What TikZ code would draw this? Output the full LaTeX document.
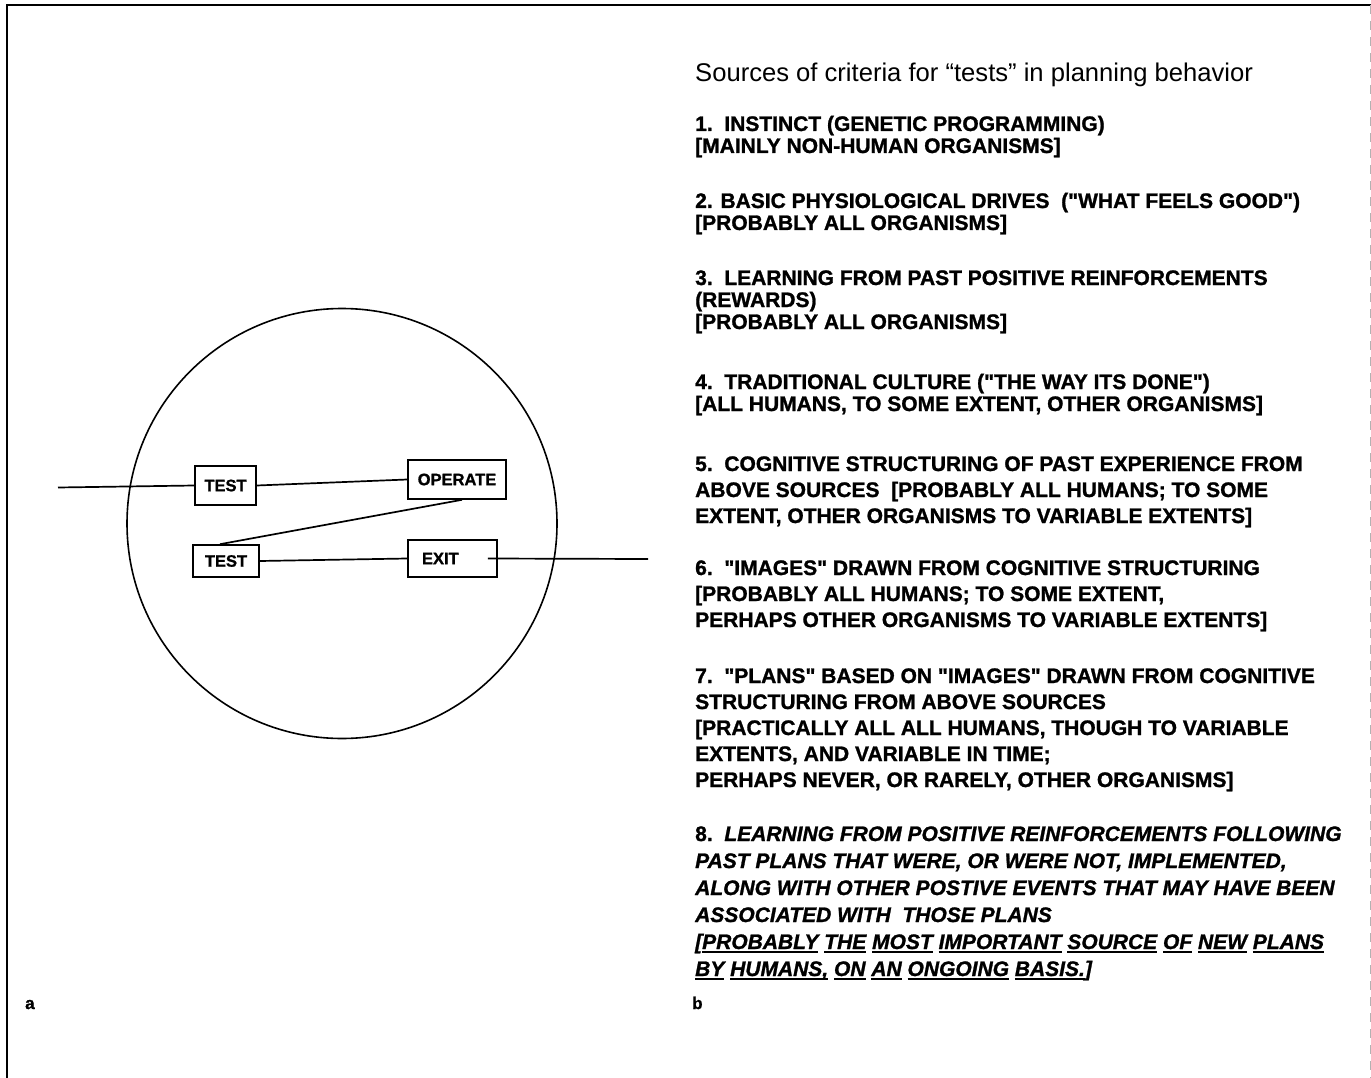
\documentclass[tikz,border=0pt]{standalone}
\usepackage{fontspec}
\setmainfont{Liberation Sans}[Ligatures=TeXOff, BoldFeatures={FakeBold=1.2}, BoldItalicFeatures={FakeBold=1.2}]
\usetikzlibrary{positioning}

\newlength{\wordlen}
\newcommand{\wordline}[1]{\settowidth{\wordlen}{#1}\rlap{\rule[-4pt]{\wordlen}{1.6pt}}#1}

\begin{document}
\begin{tikzpicture}[x=1pt, y=-1pt,
    box/.style={draw, line width=1.6pt, inner sep=0pt, minimum height=38pt,
      font=\fontsize{16.5}{18}\selectfont\bfseries},
    wire/.style={line width=1.7pt},
    item/.style={anchor=base west, inner sep=0pt, align=left,
      font=\fontsize{21}{22}\selectfont\bfseries}]
    \useasboundingbox (0,0) rectangle (1371,1078);
    % frame
    \draw[line width=1.6pt] (1371,5) -- (7,5) -- (7,1078);
    \draw[gray!60, line width=1pt, dash pattern=on 9pt off 7pt] (1370,5) -- (1370,1078);

    % panel a: the TOTE loop
    \draw[line width=1.6pt] (342,523.5) circle (215pt);
    \node[box, minimum width=61pt, minimum height=39pt] (test1) at (225.5,485.5) {TEST};
    \node[box, minimum width=98pt, minimum height=39pt] (operate) at (457,479.5) {OPERATE};
    \node[box, minimum width=66pt, minimum height=32pt] (test2) at (226,561) {TEST};
    \node[box, text width=61pt, inner xsep=14pt, align=left, minimum height=37pt] (exit) at (452.5,558.5) {EXIT};
    \coordinate (in) at (58,487.5);
    \coordinate (out) at (648,559);
    \draw[wire] (in) -- (test1.west);
    \draw[wire] (test1.east) -- (operate.west);
    \draw[wire] ([xshift=5pt]operate.south) -- ([xshift=-6pt]test2.north);
    \draw[wire] (test2.east) -- (exit.west);
    \draw[wire] ([xshift=-10pt]exit.east) -- (out);
    \node[anchor=base west, inner sep=0pt, font=\fontsize{17}{18}\selectfont\bfseries] (lbla) at (25,1009) {a};

    % panel b: sources of criteria (base = last line)
    \node[anchor=base west, inner sep=0pt, font=\fontsize{25.6}{28}\selectfont] (title) at (695,82)
      {Sources of criteria for “tests” in planning behavior};
    \node[item] (src1) at (695,153) {1.\ \ INSTINCT (GENETIC PROGRAMMING)\\
      {[}MAINLY NON-HUMAN ORGANISMS]};
    \node[item] (src2) at (695,230) {2. BASIC PHYSIOLOGICAL DRIVES\ \ ("WHAT FEELS GOOD")\\
      {[}PROBABLY ALL ORGANISMS]};
    \node[item] (src3) at (695,329) {3.\ \ LEARNING FROM PAST POSITIVE REINFORCEMENTS\\
      (REWARDS)\\
      {[}PROBABLY ALL ORGANISMS]};
    \node[item] (src4) at (695,411) {4.\ \ TRADITIONAL CULTURE ("THE WAY ITS DONE")\\
      {[}ALL HUMANS, TO SOME EXTENT, OTHER ORGANISMS]};
    \node[item, font=\fontsize{21}{26}\selectfont\bfseries] (src5) at (695,523)
      {5.\ \ COGNITIVE STRUCTURING OF PAST EXPERIENCE FROM\\
      ABOVE SOURCES\ \ [PROBABLY ALL HUMANS; TO SOME\\
      EXTENT, OTHER ORGANISMS TO VARIABLE EXTENTS]};
    \node[item, font=\fontsize{21}{26}\selectfont\bfseries] (src6) at (695,627)
      {6.\ \ "IMAGES" DRAWN FROM COGNITIVE STRUCTURING\\
      {[}PROBABLY ALL HUMANS; TO SOME EXTENT,\\
      PERHAPS OTHER ORGANISMS TO VARIABLE EXTENTS]};
    \node[item, font=\fontsize{21}{26}\selectfont\bfseries] (src7) at (695,787)
      {7.\ \ "PLANS" BASED ON "IMAGES" DRAWN FROM COGNITIVE\\
      STRUCTURING FROM ABOVE SOURCES\\
      {[}PRACTICALLY ALL ALL HUMANS, THOUGH TO VARIABLE\\
      EXTENTS, AND VARIABLE IN TIME;\\
      PERHAPS NEVER, OR RARELY, OTHER ORGANISMS]};
    \node[item, font=\fontsize{21}{27}\selectfont\bfseries] (src8) at (695,976)
      {8.\ \ \textit{LEARNING FROM POSITIVE REINFORCEMENTS FOLLOWING}\\
      \textit{PAST PLANS THAT WERE, OR WERE NOT, IMPLEMENTED,}\\
      \textit{ALONG WITH OTHER POSTIVE EVENTS THAT MAY HAVE BEEN}\\
      \textit{ASSOCIATED WITH\ \ THOSE PLANS}\\
      \textit{{[}\wordline{PROBABLY} \wordline{THE} \wordline{MOST} \wordline{IMPORTANT} \wordline{SOURCE} \wordline{OF} \wordline{NEW} \wordline{PLANS}}\\
      \textit{\wordline{BY} \wordline{HUMANS,} \wordline{ON} \wordline{AN} \wordline{ONGOING} \wordline{BASIS.}]}};
    \node[anchor=base west, inner sep=0pt, font=\fontsize{17}{18}\selectfont\bfseries] (lblb) at (692,1009) {b};
  \end{tikzpicture}
\end{document}
